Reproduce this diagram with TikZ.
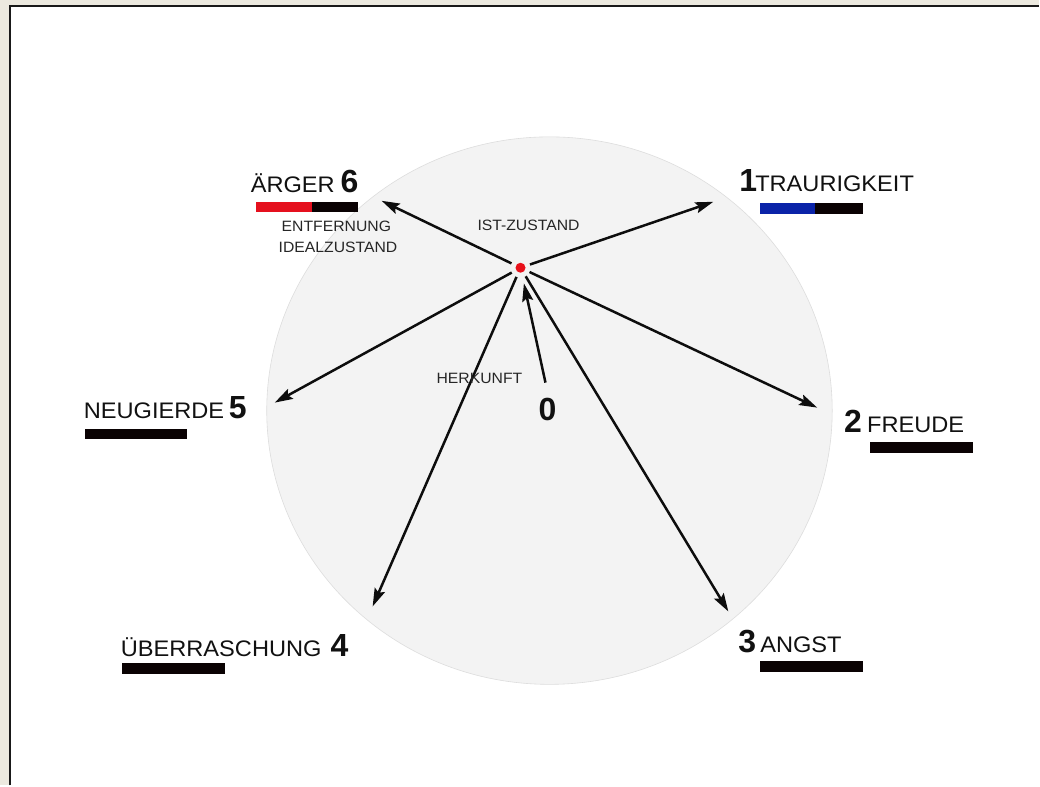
\documentclass[tikz,border=0pt]{standalone}
\usepackage{fontspec}
\setmainfont{Liberation Sans}
\newfontfamily\lblfont[FakeStretch=1.05]{Liberation Sans}
\newfontfamily\digitfont{Liberation Sans}
\usetikzlibrary{arrows.meta}

\definecolor{framebg}{HTML}{ECE9DF}
\definecolor{wheelfill}{HTML}{F3F3F3}
\definecolor{wheeledge}{HTML}{DDDDDD}
\definecolor{barblack}{HTML}{0A0203}
\definecolor{barred}{HTML}{E5101E}
\definecolor{barblue}{HTML}{0A23A8}
\definecolor{dotred}{HTML}{E8101A}
\definecolor{ink}{HTML}{111111}

\newcommand\emoname{\lblfont\fontsize{22.5}{22.5}\selectfont}
\newcommand\emonum{\digitfont\bfseries\fontsize{32}{32}\selectfont}
\newcommand\smalllbl{\lblfont\fontsize{15}{15}\selectfont}

\tikzset{
  lbl/.style={inner sep=0pt, outer sep=0pt, anchor=base west, text=ink},
  namelbl/.style={lbl, font=\emoname},
  numlbl/.style={lbl, font=\emonum},
  smalltxt/.style={lbl, font=\smalllbl, text=black!85},
  vector/.style={draw=black!95, line width=2.5pt,
    -{Stealth[length=18pt,width=11pt,inset=3pt]}},
  scorebar/.style={fill=barblack},
}

\begin{document}
\begin{tikzpicture}[x=1pt,y=-1pt]
  % page frame
  \fill[framebg] (0,0) rectangle (1040,786);
  \fill[white] (11,7) rectangle (1040,786);
  \draw[line width=2pt, black!90] (10.5,786) -- (10.5,6.5) -- (1040,6.5);
  \useasboundingbox (0,0) rectangle (1040,786);

  % the wheel
  \fill[wheelfill, draw=wheeledge, line width=0.6pt]
    (550,411) ellipse [x radius=283, y radius=274];

  % current state
  \node[circle, fill=dotred, inner sep=0pt, minimum size=10pt, outer sep=5pt]
    (dot) at (521,268) {};

  % arrow tips
  \coordinate (tip1) at (714,202);
  \coordinate (tip2) at (818,408);
  \coordinate (tip3) at (729,612);
  \coordinate (tip4) at (373,607);
  \coordinate (tip5) at (275,403);
  \coordinate (tip6) at (382,201);
  \coordinate (origin) at (546,383);

  \draw[vector] (dot) -- (tip1);
  \draw[vector] (dot) -- (tip2);
  \draw[vector] (dot) -- (tip3);
  \draw[vector] (dot) -- (tip4);
  \draw[vector] (dot) -- (tip5);
  \draw[vector] (dot) -- (tip6);
  \draw[vector, shorten >=6pt] (origin) -- (dot);

  % labels of the emotions
  \node[namelbl] (t6) at (251,193) {ÄRGER};
  \node[numlbl]  (n6) at (341,193) {6};
  \node[numlbl]  (n1) at (740,192) {1};
  \node[namelbl] (t1) at (756,192) {TRAURIGKEIT};
  \node[namelbl] (t5) at (84,419) {NEUGIERDE};
  \node[numlbl]  (n5) at (229,419) {5};
  \node[numlbl]  (n2) at (845,433) {2};
  \node[namelbl] (t2) at (868,433) {FREUDE};
  \node[namelbl] (t4) at (121,657) {ÜBERRASCHUNG};
  \node[numlbl]  (n4) at (331,657) {4};
  \node[numlbl]  (n3) at (739,653) {3};
  \node[namelbl] (t3) at (761,653) {ANGST};
  \node[numlbl, anchor=base] (n0) at (548,421) {0};

  % small annotations
  \node[smalltxt] (entf)  at (282,232) {ENTFERNUNG};
  \node[smalltxt] (ideal) at (279,253) {IDEALZUSTAND};
  \node[smalltxt, anchor=base] (ist) at (529,231) {IST-ZUSTAND};
  \node[smalltxt] (herk)  at (437,384) {HERKUNFT};

  % score bars
  \fill[scorebar] (256,202) rectangle (358,212);
  \fill[barred]   (256,202) rectangle (312,212);
  \fill[scorebar] (761,203) rectangle (864,214);
  \fill[barblue]  (761,203) rectangle (816,214);
  \fill[scorebar] (85,429)  rectangle (187,439);
  \fill[scorebar] (871,442) rectangle (974,453);
  \fill[scorebar] (122,664) rectangle (225,675);
  \fill[scorebar] (761,662) rectangle (864,673);
\end{tikzpicture}
\end{document}
